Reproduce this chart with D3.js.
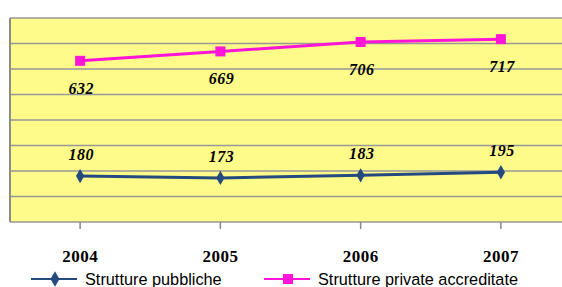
<!DOCTYPE html>
<html>
<head>
<meta charset="utf-8">
<script src="https://cdn.jsdelivr.net/npm/d3@7"></script>
<style>
  body { margin: 0; background: #fff; }
</style>
</head>
<body>
<svg id="chart"></svg>
<script>
var years = ['2004', '2005', '2006', '2007']
var pubbliche = [180, 173, 183, 195]
var private_ = [632, 669, 706, 717]
var yTicks = [0, 100, 200, 300, 400, 500, 600, 700, 800]

var width = 562
var height = 287
var left = 10
var top_ = 18
var plotW = 561
var plotH = 204

var svg = d3.select('#chart')
  .attr('width', width)
  .attr('height', height)

var x = d3.scaleBand()
  .domain(years)
  .range([left, left + plotW])
var y = d3.scaleLinear()
  .domain([0, 800])
  .range([top_ + plotH, top_])

var cx = function (d, i) { return x(years[i]) + x.bandwidth() / 2 }

// plot background
svg.append('rect')
  .attr('x', left)
  .attr('y', top_)
  .attr('width', plotW)
  .attr('height', plotH)
  .attr('fill', '#fffb8a')

// gridlines
svg.append('g').selectAll('line')
  .data(yTicks)
  .enter().append('line')
  .attr('x1', left)
  .attr('x2', left + plotW)
  .attr('y1', function (d) { return y(d) })
  .attr('y2', function (d) { return y(d) })
  .attr('stroke', '#979797')
  .attr('stroke-width', 1.5)

// left border
svg.append('line')
  .attr('x1', left).attr('x2', left)
  .attr('y1', top_).attr('y2', top_ + plotH)
  .attr('stroke', '#8c8c8c')
  .attr('stroke-width', 2)

// x axis ticks + labels
var xAxis = d3.axisBottom(x).tickSize(7).tickPadding(21)
var gx = svg.append('g')
  .attr('transform', 'translate(0,' + (top_ + plotH) + ')')
  .call(xAxis)
gx.select('.domain').remove()
gx.selectAll('.tick line').attr('stroke', '#888').attr('stroke-width', 1.5)
gx.selectAll('.tick text')
  .attr('fill', '#000')
  .style('font-family', '"Liberation Serif", "Times New Roman", serif')
  .style('font-weight', 'bold')
  .style('font-size', '17px')
  .style('letter-spacing', '0.5px')

var line = d3.line()
  .x(cx)
  .y(function (d) { return y(d) })

// private series
svg.append('path')
  .datum(private_)
  .attr('d', line)
  .attr('fill', 'none')
  .attr('stroke', '#ff14d8')
  .attr('stroke-width', 3)
svg.append('g').selectAll('rect')
  .data(private_)
  .enter().append('rect')
  .attr('x', function (d, i) { return cx(d, i) - 5 })
  .attr('y', function (d) { return y(d) - 5 })
  .attr('width', 10)
  .attr('height', 10)
  .attr('fill', '#ff14d8')

// public series
svg.append('path')
  .datum(pubbliche)
  .attr('d', line)
  .attr('fill', 'none')
  .attr('stroke', '#244a80')
  .attr('stroke-width', 3)
svg.append('g').selectAll('path')
  .data(pubbliche)
  .enter().append('path')
  .attr('d', d3.symbol().type(d3.symbolDiamond).size(60))
  .attr('transform', function (d, i) { return 'translate(' + cx(d, i) + ',' + y(d) + ')' })
  .attr('fill', '#244a80')

// data labels
var labelFont = '"Liberation Serif", "Times New Roman", serif'
function labels (data, dy) {
  svg.append('g').selectAll('text')
    .data(data)
    .enter().append('text')
    .attr('x', function (d, i) { return cx(d, i) + 1 })
    .attr('y', function (d) { return y(d) + dy })
    .attr('text-anchor', 'middle')
    .style('font-family', labelFont)
    .style('font-weight', 'bold')
    .style('font-style', 'italic')
    .style('font-size', '16px')
    .style('letter-spacing', '0.5px')
    .text(function (d) { return d })
}
labels(private_, 33)
labels(pubbliche, -16)

// legend
var legend = [
  { name: 'Strutture pubbliche', color: '#244a80', x: 31, marker: 'diamond' },
  { name: 'Strutture private accreditate', color: '#ff14d8', x: 264, marker: 'square' }
]
var lg = svg.append('g').selectAll('g')
  .data(legend)
  .enter().append('g')
  .attr('transform', function (d) { return 'translate(' + d.x + ',279)' })
lg.append('line')
  .attr('x1', 0).attr('x2', 46)
  .attr('stroke', function (d) { return d.color })
  .attr('stroke-width', 2)
lg.append('path')
  .attr('d', function (d) {
    return d3.symbol().type(d.marker === 'diamond' ? d3.symbolDiamond : d3.symbolSquare).size(d.marker === 'diamond' ? 70 : 100)()
  })
  .attr('transform', 'translate(24,0)')
  .attr('fill', function (d) { return d.color })
lg.append('text')
  .attr('x', 54)
  .attr('y', 6)
  .style('font-family', '"Liberation Sans", Arial, sans-serif')
  .style('font-size', '16.3px')
  .text(function (d) { return d.name })
</script>
</body>
</html>
